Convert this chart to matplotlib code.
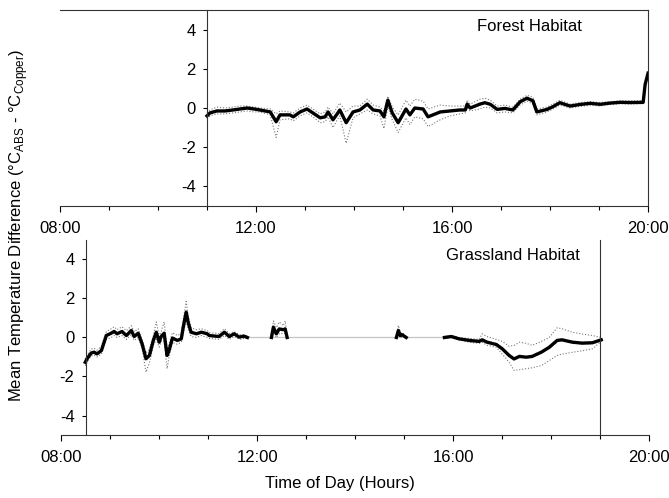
import numpy as np
import matplotlib.pyplot as plt
from matplotlib.ticker import MultipleLocator

plt.rcParams['font.family'] = ['Liberation Sans', 'DejaVu Sans']
plt.rcParams['font.size'] = 12
plt.rcParams['mathtext.fontset'] = 'custom'
plt.rcParams['mathtext.rm'] = 'Liberation Sans'
plt.rcParams['axes.unicode_minus'] = False

nan = np.nan

# Forest habitat (hours of day, mean difference, upper / lower bounds)
forest_h = [11.00, 11.06, 11.20, 11.37, 11.53, 11.67, 11.82, 11.96, 12.08, 12.29,
            12.41, 12.49, 12.69, 12.76, 12.90, 13.04, 13.16, 13.31, 13.41, 13.47,
            13.57, 13.67, 13.71, 13.84, 13.98, 14.12, 14.27, 14.39, 14.53, 14.61,
            14.69, 14.78, 14.90, 15.06, 15.14, 15.24, 15.41, 15.51, 15.76, 15.96,
            16.16, 16.27, 16.31, 16.37, 16.57, 16.67, 16.78, 16.92, 17.08, 17.24,
            17.39, 17.53, 17.65, 17.73, 17.94, 18.06, 18.20, 18.41, 18.61, 18.82,
            19.02, 19.22, 19.43, 19.63, 19.90, 19.94, 20.00]
forest_mean = [-0.40, -0.25, -0.15, -0.15, -0.10, -0.05, 0.00, -0.05, -0.10, -0.20,
               -0.70, -0.35, -0.35, -0.45, -0.20, -0.05, -0.25, -0.50, -0.45, -0.20,
               -0.60, -0.25, -0.10, -0.75, -0.20, -0.10, 0.20, -0.10, -0.15, -0.45,
               0.40, -0.25, -0.75, -0.05, -0.35, 0.00, -0.05, -0.45, -0.20, -0.15,
               -0.10, -0.10, 0.20, 0.00, 0.20, 0.27, 0.19, -0.07, -0.02, -0.10,
               0.32, 0.50, 0.37, -0.20, -0.07, 0.07, 0.27, 0.10, 0.18, 0.24,
               0.19, 0.25, 0.29, 0.28, 0.29, 1.20, 1.78]
forest_upper = [-0.25, -0.10, 0.05, 0.00, 0.05, 0.10, 0.10, 0.05, 0.00, -0.05,
                -0.30, -0.15, -0.20, -0.25, 0.00, 0.15, -0.05, -0.30, -0.20, 0.05,
                -0.30, 0.10, 0.25, -0.20, 0.10, 0.10, 0.45, 0.15, 0.05, -0.15,
                0.60, 0.05, -0.35, 0.40, 0.10, 0.45, 0.35, -0.05, 0.15, 0.10,
                0.10, 0.10, 0.40, 0.20, 0.45, 0.50, 0.40, 0.10, 0.15, 0.05,
                0.45, 0.65, 0.55, -0.05, 0.05, 0.20, 0.40, 0.20, 0.28, 0.32,
                0.28, 0.33, 0.37, 0.36, 0.37, 1.25, 1.80]
forest_lower = [-0.55, -0.40, -0.30, -0.30, -0.25, -0.20, -0.15, -0.20, -0.20, -0.35,
                -1.50, -0.60, -0.55, -0.65, -0.40, -0.25, -0.45, -0.75, -0.70, -0.45,
                -1.00, -0.55, -0.40, -1.80, -0.50, -0.30, -0.10, -0.30, -0.40, -1.05,
                0.10, -0.60, -1.25, -0.50, -0.85, -0.45, -0.55, -0.95, -0.60, -0.40,
                -0.30, -0.25, 0.00, -0.15, -0.05, 0.05, 0.00, -0.25, -0.20, -0.25,
                0.15, 0.35, 0.20, -0.35, -0.20, -0.05, 0.15, 0.00, 0.08, 0.14,
                0.10, 0.18, 0.22, 0.20, 0.22, 1.15, 1.75]

# Grassland habitat (nan = no data)
grass_h = [8.49, 8.53, 8.61, 8.67, 8.73, 8.82, 8.92, 9.02, 9.08, 9.14,
           9.24, 9.33, 9.43, 9.49, 9.57, 9.65, 9.73, 9.80, 9.88, 9.94,
           10.00, 10.04, 10.10, 10.16, 10.20, 10.27, 10.37, 10.45, 10.49, 10.55,
           10.59, 10.65, 10.76, 10.86, 10.98, 11.02, 11.22, 11.33, 11.43, 11.53,
           11.63, 11.73, 11.80, nan,
           12.29, 12.33, 12.39, 12.45, 12.53, 12.57, 12.61, nan,
           14.84, 14.88, 14.92, 14.96, 15.04, nan,
           15.82, 15.96, 16.12, 16.33, 16.53, 16.59, 16.69, 16.88, 17.00, 17.14,
           17.24, 17.35, 17.49, 17.61, 17.80, 17.96, 18.12, 18.22, 18.43, 18.63,
           18.84, 19.02]
grass_mean = [-1.27, -1.08, -0.80, -0.75, -0.84, -0.67, 0.10, 0.22, 0.31, 0.19,
              0.31, 0.10, 0.36, 0.05, 0.22, -0.32, -1.09, -0.92, -0.15, 0.27,
              -0.24, 0.05, 0.22, -0.92, -0.67, -0.03, -0.15, -0.07, 0.53, 1.30,
              0.78, 0.27, 0.19, 0.27, 0.19, 0.10, 0.05, 0.27, 0.05, 0.19,
              0.02, 0.07, 0.00, nan,
              0.00, 0.53, 0.19, 0.44, 0.40, 0.44, 0.00, nan,
              0.00, 0.36, 0.10, 0.14, 0.00, nan,
              0.00, 0.05, -0.07, -0.15, -0.20, -0.12, -0.24, -0.36, -0.58, -0.92,
              -1.10, -0.97, -1.01, -0.97, -0.75, -0.50, -0.15, -0.12, -0.24, -0.29,
              -0.27, -0.12]
grass_upper = [-1.10, -0.90, -0.60, -0.55, -0.65, -0.45, 0.30, 0.45, 0.55, 0.40,
               0.55, 0.35, 0.60, 0.30, 0.45, -0.10, -0.80, -0.60, 0.10, 0.80,
               0.05, 0.30, 0.80, -0.60, -0.35, 0.25, 0.10, 0.20, 0.90, 1.85,
               1.15, 0.50, 0.40, 0.45, 0.35, 0.25, 0.20, 0.45, 0.20, 0.30,
               0.15, 0.15, 0.05, nan,
               0.10, 0.85, 0.50, 0.80, 0.60, 0.85, 0.05, nan,
               0.10, 0.62, 0.25, 0.25, 0.05, nan,
               0.05, 0.10, 0.00, -0.05, -0.10, 0.19, 0.05, -0.10, -0.20, -0.45,
               -0.41, -0.24, -0.30, -0.40, -0.20, 0.00, 0.50, 0.45, 0.27, 0.18,
               0.10, 0.00]
grass_lower = [-1.45, -1.25, -0.95, -0.90, -1.00, -0.85, -0.10, 0.00, 0.10, 0.00,
               0.10, -0.10, 0.15, -0.15, 0.00, -0.55, -1.78, -1.30, -0.40, -0.10,
               -0.50, -0.20, -0.20, -1.60, -1.00, -0.25, -0.35, -0.25, 0.20, 0.90,
               0.45, 0.05, 0.00, 0.10, 0.00, -0.05, -0.10, 0.10, -0.10, 0.05,
               -0.10, -0.05, -0.05, nan,
               -0.05, 0.30, 0.00, 0.20, 0.20, 0.20, -0.05, nan,
               -0.05, 0.15, 0.00, 0.05, -0.05, nan,
               -0.05, 0.00, -0.12, -0.25, -0.30, -0.25, -0.40, -0.50, -0.85, -1.27,
               -1.69, -1.65, -1.60, -1.55, -1.44, -1.18, -0.92, -0.85, -0.76, -0.68,
               -0.58, -0.20]
grass_gap = [11.80, 15.82]

hour_ticks = [8, 12, 16, 20]
hour_labels = ['08:00', '12:00', '16:00', '20:00']
y_ticks = [-4, -2, 0, 2, 4]

fig = plt.figure(figsize=(6.69, 4.98), dpi=100)
ax1 = fig.add_axes([0.0897, 0.5863, 0.879, 0.3936])
ax2 = fig.add_axes([0.0915, 0.1265, 0.879, 0.3916])

for ax in (ax1, ax2):
    ax.set_xlim(8, 20)
    ax.set_ylim(-5, 5)
    ax.set_xticks(hour_ticks)
    ax.set_xticklabels(hour_labels)
    ax.xaxis.set_minor_locator(MultipleLocator(1))
    ax.set_yticks(y_ticks)
    ax.tick_params(axis='x', which='major', direction='out', length=4, width=0.8, pad=7)
    ax.tick_params(axis='x', which='minor', direction='out', length=3, width=0.8)
    ax.tick_params(axis='y', direction='out', length=3, width=0.8, pad=5)
    for s in ax.spines.values():
        s.set_linewidth(0.8)
        s.set_color('#333333')

# Forest panel
ax1.spines['left'].set_position(('data', 11))
ax1.plot(forest_h, forest_upper, color='#777777', lw=0.8, ls=':')
ax1.plot(forest_h, forest_lower, color='#777777', lw=0.8, ls=':')
ax1.plot(forest_h, forest_mean, color='black', lw=2.4)
ax1.text(17.57, 4.15, 'Forest Habitat', ha='center', va='center')

# Grassland panel
ax2.spines['left'].set_position(('data', 8.5))
ax2.spines['right'].set_position(('data', 19))
ax2.spines['top'].set_visible(False)
ax2.plot(grass_gap, [0, 0], color='#c4c4c4', lw=0.9)
ax2.plot(grass_h, grass_upper, color='#777777', lw=0.8, ls=':')
ax2.plot(grass_h, grass_lower, color='#777777', lw=0.8, ls=':')
ax2.plot(grass_h, grass_mean, color='black', lw=2.4)
ax2.text(17.22, 4.2, 'Grassland Habitat', ha='center', va='center')

fig.text(0.027, 0.548,
         r'Mean Temperature Difference (°C$_{\mathregular{ABS}}$ - °C$_{\mathregular{Copper}}$)',
         rotation=90, ha='center', va='center')
fig.text(0.508, 0.03, 'Time of Day (Hours)', ha='center', va='center')

fig.savefig('out.png', dpi=100)
